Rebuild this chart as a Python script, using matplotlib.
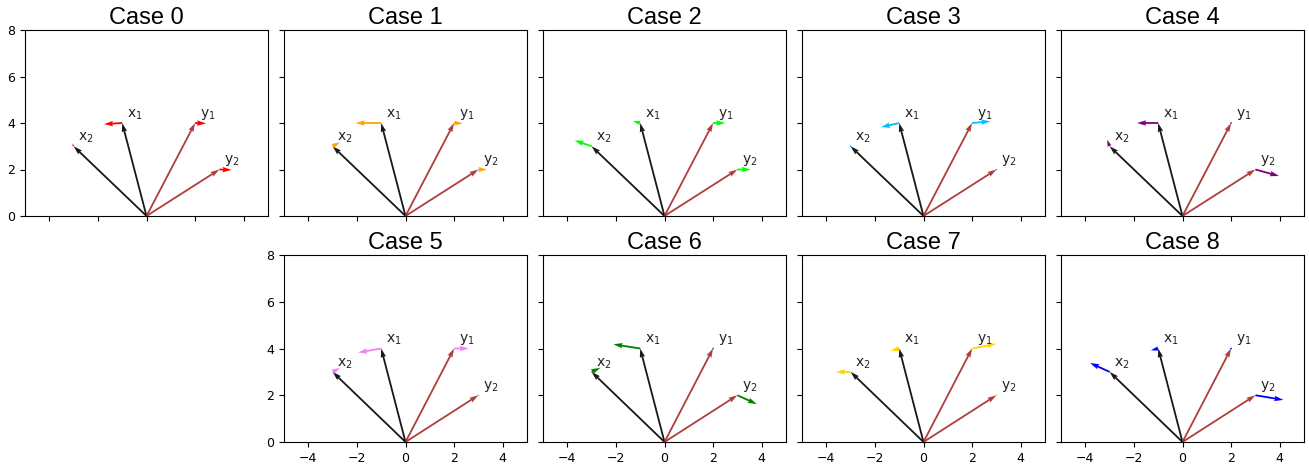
import matplotlib
matplotlib.use("Agg")
import matplotlib.pyplot as plt
import numpy as np

# Base vectors
labels = ["x$_1$", "x$_2$", "y$_1$", "y$_2$"]
vec_x = [-1, -3, 2, 3]
vec_y = [4, 3, 4, 2]
vec_colors = ["black", "black", "brown", "brown"]

case_titles = ["Case 0", "Case 1", "Case 2", "Case 3", "Case 4",
               "Case 5", "Case 6", "Case 7", "Case 8"]
case_colors = ["red", "orange", "lime", "deepskyblue", "purple",
               "violet", "green", "gold", "blue"]

# Displacement arrows at each tip (order: x1, x2, y1, y2)
case0_dx = [-0.75, -0.05, 0.45, 0.50]
case0_dy = [-0.05, 0.12, -0.02, -0.02]
case1_dx = [-1.05, 0.30, 0.35, 0.35]
case1_dy = [0.00, 0.17, -0.02, 0.00]
case2_dx = [-0.30, -0.70, 0.50, 0.55]
case2_dy = [0.08, 0.25, 0.00, 0.00]
case3_dx = [-0.75, -0.04, 0.75, 0.05]
case3_dy = [-0.18, 0.06, 0.07, 0.01]
case4_dx = [-0.87, -0.10, 0.02, 0.97]
case4_dy = [0.00, 0.28, 0.01, -0.28]
case5_dx = [-0.95, 0.30, 0.60, 0.03]
case5_dy = [-0.17, 0.17, 0.00, 0.01]
case6_dx = [-1.10, 0.35, 0.03, 0.80]
case6_dy = [0.18, 0.17, 0.02, -0.38]
case7_dx = [-0.35, -0.60, 1.00, 0.03]
case7_dy = [-0.10, 0.00, 0.20, 0.01]
case8_dx = [-0.30, -0.80, 0.02, 1.15]
case8_dy = [-0.08, 0.38, 0.02, -0.20]

cases_dx = [case0_dx, case1_dx, case2_dx, case3_dx, case4_dx,
            case5_dx, case6_dx, case7_dx, case8_dx]
cases_dy = [case0_dy, case1_dy, case2_dy, case3_dy, case4_dy,
            case5_dy, case6_dy, case7_dy, case8_dy]

xticks = [-4, -2, 0, 2, 4]
yticks = [0, 2, 4, 6, 8]

W, H = 1309, 471
fig = plt.figure(figsize=(W / 100, H / 100), dpi=100)

col_left = [25, 284, 543, 802, 1061]
ax_w = 243
rows = [(30, 216), (255, 442)]

positions = []
for i in range(5):
    positions.append((0, i))
for i in range(1, 5):
    positions.append((1, i))

for k, (r, c) in enumerate(positions):
    top, bot = rows[r]
    ax = fig.add_axes([col_left[c] / W, (H - bot) / H, ax_w / W, (bot - top) / H])
    ax.quiver(np.zeros(4), np.zeros(4), vec_x, vec_y, color=vec_colors,
              angles="xy", scale_units="xy", scale=1, alpha=0.9)
    ax.quiver(vec_x, vec_y, cases_dx[k], cases_dy[k], color=case_colors[k],
              angles="xy", scale_units="xy", scale=1)
    for lab, vx, vy in zip(labels, vec_x, vec_y):
        ax.text(vx + 0.2, vy + 0.05, lab, fontsize=10, ha="left", va="bottom",
                color="#222222")
    ax.set_xlim(-5, 5)
    ax.set_ylim(0, 8)
    ax.set_xticks(xticks)
    ax.set_yticks(yticks)
    ax.tick_params(labelsize=9)
    ax.set_title(case_titles[k], fontsize=17, family=["Liberation Sans", "DejaVu Sans"], pad=4)
    if r == 0:
        ax.set_xticklabels([])
    if not (c == 0 or (r == 1 and c == 1)):
        ax.set_yticklabels([])

fig.savefig("out.png", dpi=100)
